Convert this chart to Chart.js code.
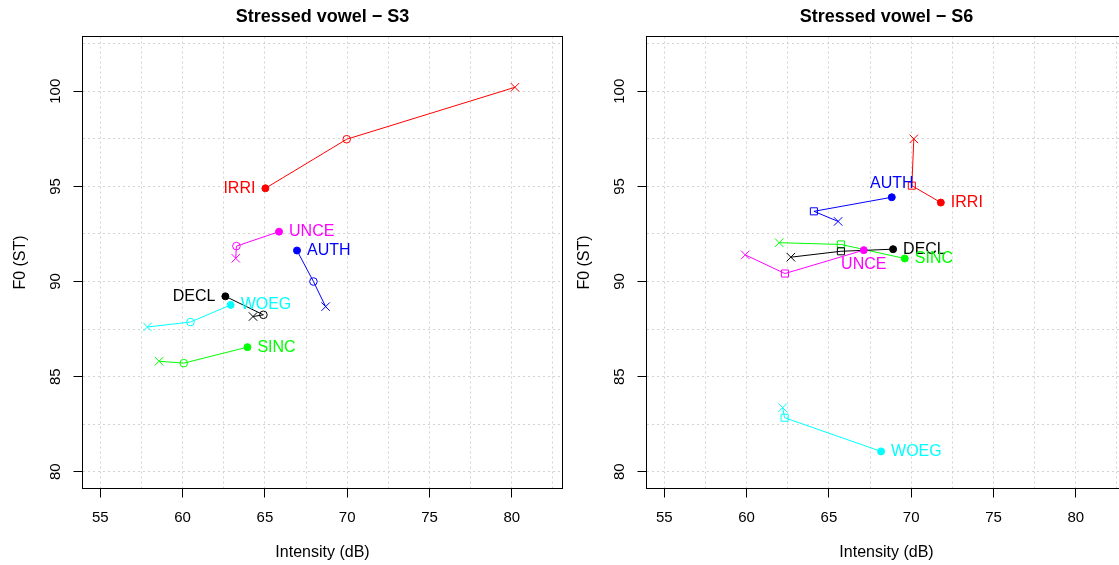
<!DOCTYPE html>
<html>
<head>
<meta charset="utf-8">
<script src="https://cdn.jsdelivr.net/npm/chart.js@4.4.1/dist/chart.umd.min.js"></script>
<style>
    html, body { margin: 0; padding: 0; background: #fff; overflow: hidden; width: 1119px; height: 565px; }
    canvas { position: absolute; top: 0; }
    #panelS3 { left: 0; }
    #panelS6 { left: 564px; }
</style>
</head>
<body>
<canvas id="panelS3" width="564" height="565"></canvas>
<canvas id="panelS6" width="564" height="565"></canvas>
<script>
// Grupos (actos de habla) y sus colores
const groups = ['IRRI', 'UNCE', 'AUTH', 'DECL', 'WOEG', 'SINC'];
const groupColors = ['#ff0000', '#ff00ff', '#0000ff', '#000000', '#00ffff', '#00ff00'];

// Cada grupo: [punto lleno, punto abierto, cruz]
const s3Intensity = [
    [65.03, 69.97, 80.19],
    [65.86, 63.27, 63.23],
    [66.95, 67.95, 68.69],
    [62.60, 64.91, 64.28],
    [62.92, 60.48, 57.87],
    [63.94, 60.07, 58.57]
];
const s3F0 = [
    [94.90, 97.48, 100.21],
    [92.62, 91.86, 91.22],
    [91.63, 90.00, 88.68],
    [89.22, 88.25, 88.16],
    [88.77, 87.87, 87.61],
    [86.55, 85.71, 85.81]
];
const s6Intensity = [
    [71.80, 70.04, 70.16],
    [67.12, 62.33, 59.92],
    [68.82, 64.09, 65.56],
    [68.90, 65.73, 62.69],
    [68.17, 62.31, 62.19],
    [69.61, 65.73, 61.98]
];
const s6F0 = [
    [94.15, 95.04, 97.50],
    [91.65, 90.42, 91.40],
    [94.43, 93.69, 93.16],
    [91.70, 91.59, 91.28],
    [81.07, 82.84, 83.37],
    [91.21, 91.95, 92.04]
];

// Ejes
const xTicks = [55, 60, 65, 70, 75, 80];
const yTicks = [80, 85, 90, 95, 100];
const xGrid = [55, 57.5, 60, 62.5, 65, 67.5, 70, 72.5, 75, 77.5, 80, 82.5];
const yGrid = [80, 82.5, 85, 87.5, 90, 92.5, 95, 97.5, 100, 102.5];
const xLim = [55, 82];
const yLim = [80, 102];

// Donde va la etiqueta de cada grupo respecto del punto lleno
const posS3 = ['left', 'right', 'right', 'left', 'right', 'right'];
const posS6 = ['right', 'below', 'above', 'right', 'right', 'right'];

const FONT = '"Liberation Sans", Arial, Helvetica, sans-serif';

const marcoPlugin = {
    id: 'marco',
    afterDraw(chart) {
        const ctx = chart.ctx;
        const a = chart.chartArea;
        const x = chart.scales.x;
        const y = chart.scales.y;
        const o = chart.options.plugins.marco;
        ctx.save();

        // caja
        ctx.strokeStyle = '#000';
        ctx.lineWidth = 1;
        ctx.strokeRect(a.left, a.top, a.right - a.left, a.bottom - a.top);

        // titulo
        ctx.fillStyle = '#000';
        ctx.font = 'bold 18px ' + FONT;
        ctx.textAlign = 'center';
        ctx.textBaseline = 'middle';
        ctx.fillText(o.titulo, (a.left + a.right) / 2, 17.5);

        // etiquetas de ticks
        ctx.font = '15px ' + FONT;
        xTicks.forEach(v => ctx.fillText(String(v), x.getPixelForValue(v), a.bottom + 29));
        yTicks.forEach(v => {
            ctx.save();
            ctx.translate(a.left - 27, y.getPixelForValue(v));
            ctx.rotate(-Math.PI / 2);
            ctx.fillText(String(v), 0, 0);
            ctx.restore();
        });

        // titulos de ejes
        ctx.font = '16px ' + FONT;
        ctx.fillText('Intensity (dB)', (a.left + a.right) / 2, a.bottom + 64);
        ctx.save();
        ctx.translate(a.left - 62, (a.top + a.bottom) / 2);
        ctx.rotate(-Math.PI / 2);
        ctx.fillText('F0 (ST)', 0, 0);
        ctx.restore();

        // etiquetas de grupos junto al punto lleno
        groups.forEach((g, i) => {
            const px = x.getPixelForValue(o.xs[i][0]);
            const py = y.getPixelForValue(o.ys[i][0]);
            ctx.fillStyle = groupColors[i];
            const p = o.pos[i];
            if (p === 'left') { ctx.textAlign = 'right'; ctx.fillText(g, px - 10, py); }
            else if (p === 'right') { ctx.textAlign = 'left'; ctx.fillText(g, px + 10, py); }
            else if (p === 'above') { ctx.textAlign = 'center'; ctx.fillText(g, px, py - 14); }
            else { ctx.textAlign = 'center'; ctx.fillText(g, px, py + 14); }
        });
        ctx.restore();
    }
};

function armarDatasets(xs, ys, marcaAbierta) {
    return groups.map((g, i) => {
        const color = groupColors[i];
        return {
            label: g,
            data: xs[i].map((v, j) => ({ x: v, y: ys[i][j] })),
            showLine: true,
            borderColor: color,
            borderWidth: 1,
            pointStyle: ['circle', marcaAbierta, 'crossRot'],
            pointRadius: [3.5, marcaAbierta === 'rect' ? 5 : 3.8, 6],
            pointBackgroundColor: [color, 'rgba(0,0,0,0)', color],
            pointBorderColor: color,
            pointBorderWidth: 1
        };
    });
}

function escala(lim, grid, labeled, fit) {
    const ext = (lim[1] - lim[0]) * 0.04;
    return {
        type: 'linear',
        min: lim[0] - ext,
        max: lim[1] + ext,
        afterBuildTicks: s => { s.ticks = grid.map(v => ({ value: v })); },
        afterFit: fit,
        ticks: { display: false },
        border: { display: false, dash: [2, 3] },
        grid: {
            color: '#d3d3d3',
            lineWidth: 1,
            tickLength: 9,
            tickWidth: 1,
            tickBorderDash: [],
            tickColor: c => (c.tick && labeled.includes(c.tick.value)) ? '#000' : 'rgba(0,0,0,0)'
        }
    };
}

function crearPanel(id, titulo, xs, ys, pos, marcaAbierta) {
    const ctx = document.getElementById(id).getContext('2d');
    return new Chart(ctx, {
        type: 'scatter',
        data: { datasets: armarDatasets(xs, ys, marcaAbierta) },
        options: {
            responsive: false,
            animation: false,
            devicePixelRatio: 1,
            layout: { autoPadding: false, padding: { top: 36.5, right: 1.5, left: 0, bottom: 0 } },
            scales: {
                x: escala(xLim, xGrid, xTicks, s => { s.height = 76.5; }),
                y: escala(yLim, yGrid, yTicks, s => { s.width = 82.5; })
            },
            plugins: {
                legend: { display: false },
                tooltip: { enabled: false },
                marco: { titulo: titulo, xs: xs, ys: ys, pos: pos }
            }
        },
        plugins: [marcoPlugin]
    });
}

crearPanel('panelS3', 'Stressed vowel \u2212 S3', s3Intensity, s3F0, posS3, 'circle');
crearPanel('panelS6', 'Stressed vowel \u2212 S6', s6Intensity, s6F0, posS6, 'rect');
</script>
</body>
</html>
